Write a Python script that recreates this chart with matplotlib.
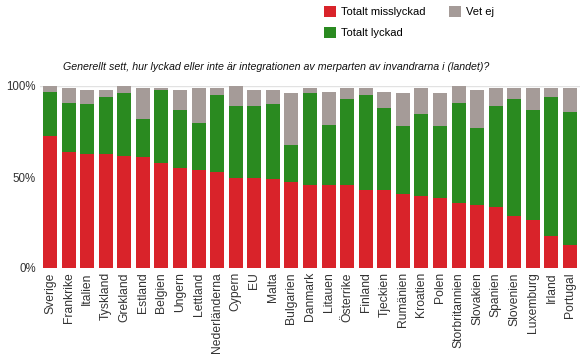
import numpy as np
import matplotlib.pyplot as plt

plt.rcParams['font.family'] = ['Liberation Sans', 'DejaVu Sans']

countries = ['Sverige', 'Frankrike', 'Italien', 'Tyskland', 'Grekland', 'Estland',
             'Belgien', 'Ungern', 'Lettland', 'Nederländerna', 'Cypern', 'EU', 'Malta',
             'Bulgarien', 'Danmark', 'Litauen', 'Österrike', 'Finland', 'Tjeckien',
             'Rumänien', 'Kroatien', 'Polen', 'Storbritannien', 'Slovakien', 'Spanien',
             'Slovenien', 'Luxemburg', 'Irland', 'Portugal']

# (percent)
misslyckad = [72.6, 63.6, 62.5, 62.5, 61.6, 60.9, 57.8, 54.8, 53.7, 52.7, 49.4, 49.4, 48.8,
              47.5, 45.7, 45.7, 45.7, 42.8, 42.8, 40.6, 39.7, 38.4, 35.8, 34.7, 33.5,
              28.5, 26.3, 17.6, 12.6]
lyckad = [23.9, 26.9, 27.4, 31.3, 34.4, 21.0, 40.0, 32.0, 26.0, 42.3, 39.6, 39.6, 41.3,
          20.1, 50.3, 32.9, 47.2, 52.2, 45.1, 37.5, 44.9, 39.7, 54.7, 42.1, 55.5,
          64.4, 60.5, 76.2, 73.0]
vet_ej = [3.5, 8.2, 7.9, 4.0, 4.0, 16.8, 0.9, 11.0, 19.0, 3.7, 11.0, 8.8, 7.7,
          28.4, 2.7, 17.9, 5.8, 3.7, 8.6, 17.9, 14.1, 17.9, 9.5, 21.0, 9.7,
          5.8, 11.9, 4.9, 13.1]

red = '#d9232a'
green = '#2a8a20'
grey = '#a59b98'

fig = plt.figure(figsize=(5.88, 3.62), dpi=100)
ax = fig.add_axes([40/588, (362-268)/362, 540/588, 182/362])

x = np.arange(len(countries))
m = np.array(misslyckad)
l = np.array(lyckad)
v = np.array(vet_ej)
ax.bar(x, m, width=0.75, color=red, zorder=2)
ax.bar(x, l, width=0.75, bottom=m, color=green, zorder=2)
ax.bar(x, v, width=0.75, bottom=m + l, color=grey, zorder=2)

ax.axhline(100, color='#e2e2e2', lw=1, zorder=1)
ax.set_xlim(-0.54, 28.54)
ax.set_ylim(0, 100)
ax.set_yticks([0, 50, 100])
ax.set_yticklabels(['0%', '50%', '100%'], fontsize=8.3, color='#333333')
ax.set_xticks(x)
ax.set_xticklabels(countries, rotation=90, fontsize=8.7, color='#333333')
ax.tick_params(length=0, pad=3)
for s in ax.spines.values():
    s.set_visible(False)

fig.legend(handles=ax.containers, labels=['Totalt misslyckad', 'Totalt lyckad', 'Vet ej'],
           loc='upper left', bbox_to_anchor=(314/588, 1.01), ncol=2, frameon=False,
           fontsize=8, handlelength=1.1, handleheight=1.1, columnspacing=2.1,
           handletextpad=0.45, labelspacing=0.85)

fig.text(276/588, 1 - 67/362,
         'Generellt sett, hur lyckad eller inte är integrationen av merparten av invandrarna i (landet)?',
         ha='center', va='center', fontsize=7.7, style='italic', color='#111111')

fig.savefig('out.png', dpi=100)
